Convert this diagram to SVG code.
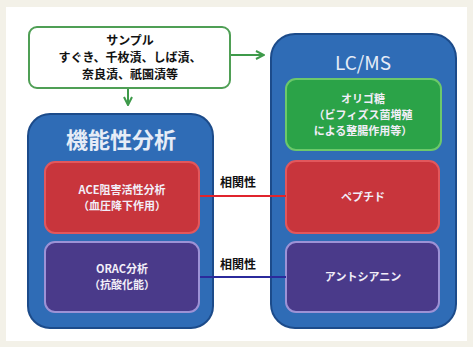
<svg xmlns="http://www.w3.org/2000/svg" width="473" height="347" viewBox="0 0 473 347">
<defs>
<style>
.big{fill:#2f6cb6;stroke:#1c4b8a;stroke-width:2}
.red{fill:#c8353c;stroke:#e2575c;stroke-width:2}
.pur{fill:#4a3a8a;stroke:#9d92d6;stroke-width:2}
.grn{fill:#2ba348;stroke:#6cc96a;stroke-width:2}
.t{font-family:"Noto Sans CJK JP","Noto Sans",sans-serif;text-anchor:middle}
.w{fill:#f2eef8;font-weight:bold;font-size:11px}
.k{fill:#111;font-weight:bold}
</style>
<marker id="ag" viewBox="0 0 10 10" refX="9" refY="5" markerWidth="5" markerHeight="5" orient="auto"><path d="M1,1 L9,5 L1,9" fill="none" stroke="#3e9a4a" stroke-width="2"/></marker>
</defs>
<rect x="0" y="0" width="473" height="347" fill="#f3f1e8"/>
<rect x="6" y="7" width="461" height="334" fill="#ffffff"/>
<g id="sample">
<rect x="29" y="27" width="201" height="61" rx="8" fill="#fff" stroke="#4f9f55" stroke-width="2"/>
<text class="t k" x="130" y="45" font-size="12">サンプル</text>
<text class="t k" x="130" y="62" font-size="12">すぐき、千枚漬、しば漬、</text>
<text class="t k" x="130" y="79" font-size="12">奈良漬、祇園漬等</text>
</g>
<g id="func">
<rect class="big" x="28" y="114" width="185" height="214" rx="22"/>
<text class="t" x="121" y="148" font-size="22" font-weight="bold" fill="#e6ecf7">機能性分析</text>
</g>
<g id="ace">
<rect class="red" x="45" y="162" width="154" height="71" rx="10"/>
<text class="t w" x="122" y="194">ACE阻害活性分析</text>
<text class="t w" x="122" y="210">（血圧降下作用）</text>
</g>
<g id="orac">
<rect class="pur" x="45" y="242" width="154" height="70" rx="10"/>
<text class="t w" x="122" y="273">ORAC分析</text>
<text class="t w" x="122" y="289">（抗酸化能）</text>
</g>
<g id="lcms">
<rect class="big" x="271" y="34" width="185" height="294" rx="24"/>
<text class="t" x="363" y="70" font-size="19" fill="#e6ecf7" font-family="'Open Sans',sans-serif">LC/MS</text>
</g>
<g id="oligo">
<rect class="grn" x="286" y="79" width="155" height="71" rx="10"/>
<text class="t w" x="363" y="103">オリゴ糖</text>
<text class="t w" x="363" y="119">（ビフィズス菌増殖</text>
<text class="t w" x="363" y="135">による整腸作用等）</text>
</g>
<g id="peptide">
<rect class="red" x="286" y="161" width="153" height="72" rx="10"/>
<text class="t w" x="363" y="201">ペプチド</text>
</g>
<g id="antho">
<rect class="pur" x="286" y="242" width="153" height="70" rx="10"/>
<text class="t w" x="363" y="281">アントシアニン</text>
</g>
<g id="connectors">
<line x1="231" y1="55" x2="264" y2="55" stroke="#3e9a4a" stroke-width="2" marker-end="url(#ag)"/>
<line x1="128" y1="89" x2="128" y2="105" stroke="#3e9a4a" stroke-width="2" marker-end="url(#ag)"/>
<line x1="200" y1="196" x2="286" y2="196" stroke="#e0242c" stroke-width="2"/>
<line x1="200" y1="277" x2="286" y2="277" stroke="#2b2a9c" stroke-width="2"/>
<text class="t k" x="238" y="187" font-size="12">相関性</text>
<text class="t k" x="238" y="269" font-size="12">相関性</text>
</g>
</svg>
